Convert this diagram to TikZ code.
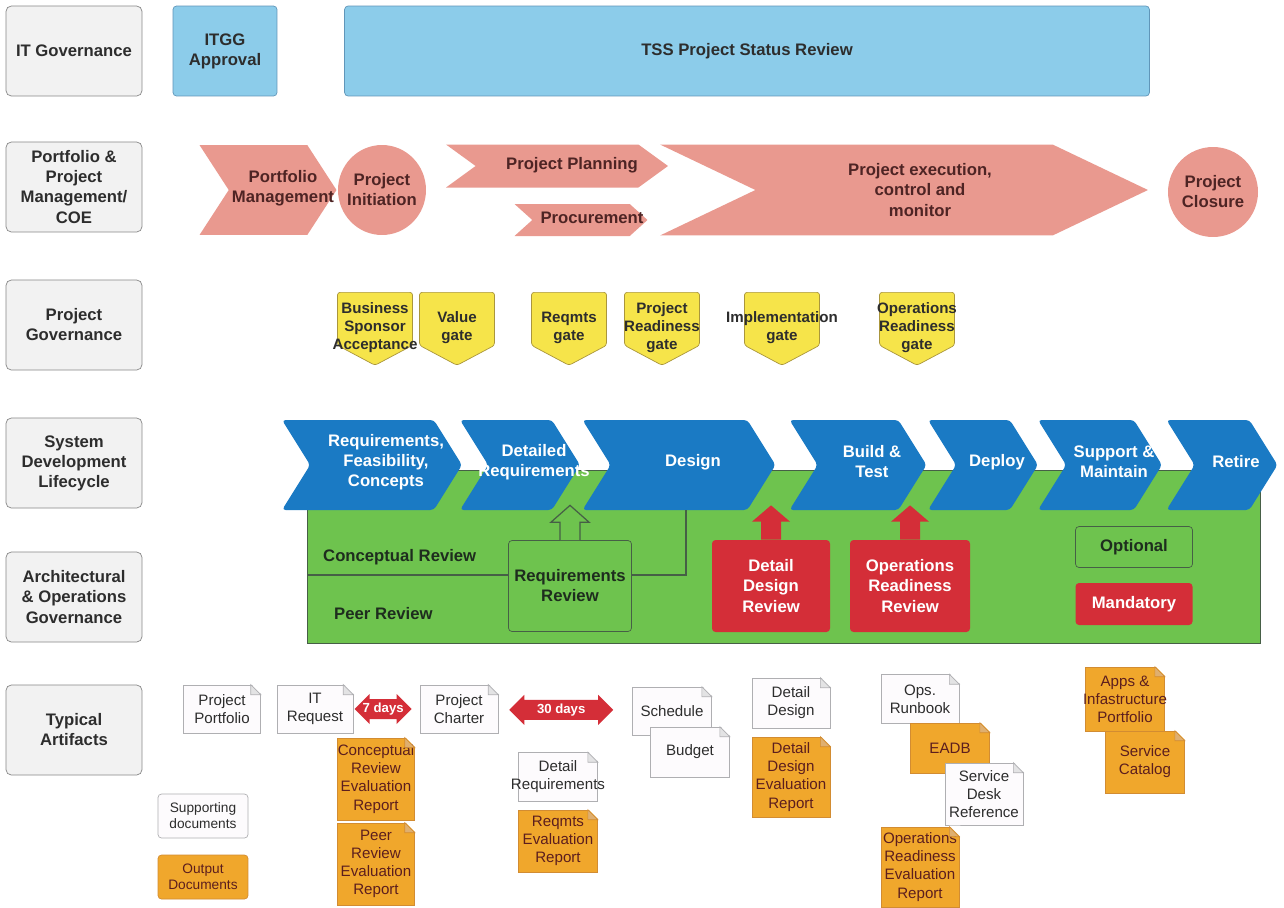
\documentclass[tikz,border=0pt]{standalone}
\usepackage{fontspec}
\setmainfont{Liberation Sans}
\usetikzlibrary{shapes.geometric, shapes.symbols, shapes.arrows, arrows.meta, positioning, calc}

\definecolor{txt}{RGB}{45,45,45}
\definecolor{lblfill}{RGB}{242,242,242}
\definecolor{lbledge}{RGB}{135,135,135}
\definecolor{govblue}{RGB}{140,204,234}
\definecolor{govedge}{RGB}{96,150,185}
\definecolor{salmon}{RGB}{233,153,143}
\definecolor{salmontext}{RGB}{78,36,36}
\definecolor{gateyellow}{RGB}{246,228,74}
\definecolor{gateedge}{RGB}{170,150,60}
\definecolor{sdlcblue}{RGB}{26,122,196}
\definecolor{archgreen}{RGB}{110,195,78}
\definecolor{archedge}{RGB}{70,95,70}
\definecolor{archtxt}{RGB}{30,45,30}
\definecolor{revred}{RGB}{212,46,56}
\definecolor{docwhite}{RGB}{253,251,253}
\definecolor{docgray}{RGB}{175,175,178}
\definecolor{docorange}{RGB}{240,167,44}
\definecolor{docoedge}{RGB}{210,140,50}
\definecolor{doctext}{RGB}{92,30,30}

\begin{document}
\begin{tikzpicture}[x=0.02cm, y=-0.02cm,
  every node/.style={align=center, text=txt, font=\fontsize{9.5}{11.4}\selectfont\bfseries},
  lane/.style={draw=lbledge, fill=lblfill, rounded corners=3pt, minimum width=2.72cm, minimum height=1.8cm},
  itg/.style={draw=govedge, fill=govblue, rounded corners=2pt, minimum height=1.8cm},
  pmshape/.style={fill=salmon, inner sep=0pt},
  pmchev/.style={pmshape, signal, signal from=west, signal to=east},
  pmtext/.style={text=salmontext},
  gate/.style={signal, signal to=south, signal pointer angle=124, draw=gateedge, fill=gateyellow,
    rounded corners=1.5pt, minimum width=1.5cm, minimum height=1.06cm, inner sep=0pt, anchor=north},
  gatetext/.style={font=\fontsize{8.6}{10.2}\selectfont\bfseries},
  sdlc/.style={signal, signal from=west, signal to=east, signal pointer angle=116, fill=sdlcblue,
    minimum height=1.8cm, inner sep=0pt, rounded corners=2pt},
  sdlctext/.style={text=white},
  panel/.style={draw=archedge, fill=archgreen},
  archtext/.style={text=archtxt, anchor=west},
  rev/.style={draw=archedge, fill=archgreen, rounded corners=2pt, text=archtxt},
  mand/.style={fill=revred, text=white, rounded corners=2pt},
  revline/.style={draw=archedge, line width=0.7pt},
  hollowup/.style={draw=archedge, fill=archgreen, line width=0.7pt},
  redup/.style={fill=revred},
  doc/.style={rectangle, inner sep=0pt, font=\fontsize{8.6}{10.3}\selectfont},
  wdoc/.style={doc, draw=docgray, fill=docwhite, text=txt},
  odoc/.style={doc, draw=docoedge, fill=docorange, text=doctext},
  keybox/.style={rounded corners=2pt, minimum width=1.8cm, minimum height=0.88cm, inner sep=0pt,
    font=\fontsize{7.8}{9.2}\selectfont},
  wfold/.style={draw=docgray, fill=docgray!35},
  ofold/.style={draw=docoedge, fill=docoedge!70},
  days/.style={double arrow, double arrow head extend=0.1cm, fill=revred, text=white, inner sep=2pt,
    font=\fontsize{7.5}{9}\selectfont\bfseries}
]
\fill[white] (0,0) rectangle (1284,907);
\useasboundingbox (0,0) rectangle (1284,907);

% swim lanes
\node[lane] (itgov) at (74,51) {IT Governance};
\node[lane] (ppm) at (74,187) {Portfolio \&\\Project\\Management/\\COE};
\node[lane] (pgov) at (74,325) {Project\\Governance};
\node[lane] (sdl) at (74,463) {System\\Development\\Lifecycle};
\node[lane] (aog) at (74,597) {Architectural\\\& Operations\\Governance};
\node[lane] (arti) at (74,730) {Typical\\Artifacts};

% IT governance
\node[itg, minimum width=2.08cm] (itgg) at (225,51) {ITGG\\Approval};
\node[itg, minimum width=16.1cm] (tss) at (747,51) {TSS Project Status Review};

% portfolio and project management
\node[pmchev, signal pointer angle=114, minimum width=2.74cm, minimum height=1.8cm] (pmgmt) at (268,190) {};
\node[pmtext] (pmgmt-t) at (283,188) {Portfolio\\Management};
\node[pmshape, ellipse, minimum width=1.76cm, minimum height=1.8cm] (pinit) at (382,190) {};
\node[pmtext] (pinit-t) at (pinit) {Project\\Initiation};
\node[pmchev, signal pointer angle=72, minimum width=4.44cm, minimum height=0.86cm] (pplan) at (557,166) {};
\node[pmtext] (pplan-t) at (572,165) {Project Planning};
\node[pmchev, signal pointer angle=84, minimum width=2.66cm, minimum height=0.64cm] (procure) at (581,220) {};
\node[pmtext] (procure-t) at (592,218) {Procurement};
\node[pmchev, signal pointer angle=51, minimum width=9.76cm, minimum height=1.82cm] (pexec) at (904,190) {};
\node[pmtext] (pexec-t) at (920,190) {Project execution,\\control and\\monitor};
\node[pmshape, circle, minimum size=1.8cm] (pclose) at (1213,192) {};
\node[pmtext] (pclose-t) at (pclose) {Project\\Closure};

% project gates
\foreach \g/\x/\t in {bsa/375/{Business\\Sponsor\\Acceptance}, valg/457/{Value\\gate},
    reqg/569/{Reqmts\\gate}, prg/662/{Project\\Readiness\\gate},
    impg/782/{Implementation\\gate}, opsg/917/{Operations\\Readiness\\gate}} {
  \node[gate] (\g) at (\x,292) {};
  \node[gatetext] (\g-t) at (\x,328) {\t};
}

% architecture panel sits behind the lifecycle
\draw[panel] (307,470) rectangle (1260,643);

% lifecycle chevrons
\foreach \c/\x/\w in {rfc/372/3.6, detreq/520/2.4, design/679/3.86, build/858/2.74,
    deploy/983/2.2, support/1100/2.48, retire/1222/2.22}
  \node[sdlc, minimum width=\w cm] (\c) at (\x,465) {};
\foreach \c/\t in {rfc/{Requirements,\\Feasibility,\\Concepts}, detreq/{Detailed\\Requirements},
    design/Design, build/{Build \&\\Test}, deploy/Deploy, support/{Support \&\\Maintain}, retire/Retire}
  \node[sdlctext] (\c-t) at ([xshift=0.28cm, yshift=0.06cm]\c.center) {\t};

% reviews
\node[archtext] (crtext) at (317,557) {Conceptual Review};
\node[archtext] (prtext) at (328,614) {Peer Review};
\node[rev, minimum width=2.42cm, minimum height=1.82cm] (rreview) at (570,586) {Requirements\\Review};
\node[mand, minimum width=2.36cm, minimum height=1.84cm] (ddr) at (771,586) {Detail\\Design\\Review};
\node[mand, minimum width=2.4cm, minimum height=1.84cm] (orr) at (910,586) {Operations\\Readiness\\Review};
\node[rev, minimum width=2.34cm, minimum height=0.82cm] (optional) at (1134,547) {Optional};
\node[mand, minimum width=2.34cm, minimum height=0.84cm] (mandatory) at (1134,604) {Mandatory};

\coordinate (crl) at (307,575);
\coordinate (crr) at (686,575);
\draw[revline] (crl) -- (crl -| rreview.west);
\draw[revline] (crl -| rreview.east) -- (crr) -- (crr |- design.south);

% review arrows up into the lifecycle
\foreach \b/\t/\s in {rreview/detreq/hollowup, ddr/design/redup, orr/build/redup}
  \path[\s] ($(\b.north)+(-10,0)$) -- ++(0,-18) -- ++(-9,0) -- ($(\b.north |- \t.south)+(0,-5)$)
    -- ($(\b.north)+(19,-18)$) -- ++(-9,0) -- ($(\b.north)+(10,0)$);

% artifacts
\node[wdoc, minimum width=1.54cm, minimum height=0.96cm] (pport) at (222,709) {Project\\Portfolio};
\node[wdoc, minimum width=1.52cm, minimum height=0.96cm] (itreq) at (315,709) {IT\\Request};
\node[wdoc, minimum width=1.56cm, minimum height=0.96cm] (pcharter) at (459,709) {Project\\Charter};
\node[wdoc, minimum width=1.58cm, minimum height=0.96cm] (sched) at (672,711) {Schedule};
\node[wdoc, minimum width=1.58cm, minimum height=1.0cm] (budget) at (690,752) {Budget};
\node[wdoc, minimum width=1.56cm, minimum height=1.0cm] (ddesign) at (791,703) {Detail\\Design};
\node[wdoc, minimum width=1.56cm, minimum height=0.98cm] (runbook) at (920,699) {Ops.\\Runbook};
\node[odoc, minimum width=1.58cm, minimum height=1.28cm] (appsport) at (1125,699) {Apps \&\\\makebox[0pt]{Infastructure}\\Portfolio};
\node[odoc, minimum width=1.54cm, minimum height=1.64cm] (crer) at (376,779) {\makebox[0pt]{Conceptual}\\Review\\Evaluation\\Report};
\node[odoc, minimum width=1.54cm, minimum height=1.64cm] (prer) at (376,864) {Peer\\Review\\Evaluation\\Report};
\node[wdoc, minimum width=1.58cm, minimum height=0.98cm] (detreqdoc) at (558,777) {Detail\\\makebox[0pt]{Requirements}};
\node[odoc, minimum width=1.58cm, minimum height=1.24cm] (rer) at (558,841) {Reqmts\\Evaluation\\Report};
\node[odoc, minimum width=1.56cm, minimum height=1.6cm] (dder) at (791,777) {Detail\\Design\\Evaluation\\Report};
\node[odoc, minimum width=1.58cm, minimum height=1.0cm] (eadb) at (950,748) {EADB};
\node[wdoc, minimum width=1.56cm, minimum height=1.24cm] (sdr) at (984,794) {Service\\Desk\\Reference};
\node[odoc, minimum width=1.56cm, minimum height=1.6cm] (orer) at (920,867) {\makebox[0pt]{Operations}\\Readiness\\Evaluation\\Report};
\node[odoc, minimum width=1.58cm, minimum height=1.24cm] (scat) at (1145,762) {Service\\Catalog};
% folded corners
\foreach \d/\f in {pport/wfold, itreq/wfold, pcharter/wfold, sched/wfold, budget/wfold, ddesign/wfold,
    runbook/wfold, appsport/ofold, crer/ofold, prer/ofold, detreqdoc/wfold, rer/ofold, dder/ofold,
    eadb/ofold, sdr/wfold, orer/ofold, scat/ofold} {
  \fill[white] ($(\d.north east)+(-10,-1)$) -- ($(\d.north east)+(1,-1)$) -- ($(\d.north east)+(1,10)$) -- cycle;
  \filldraw[\f] ($(\d.north east)+(-10,0)$) -- ++(0,10) -- ++(10,0) -- cycle;
}

\node[keybox, draw=docgray, fill=docwhite] (supdocs) at (203,816) {Supporting\\documents};
\node[keybox, draw=docoedge, fill=docorange, text=doctext] (outdocs) at (203,877) {Output\\Documents};

% lead times
\node[days, minimum height=1.14cm] (d7) at ($(itreq.east)!0.45!(pcharter.west)$) {\makebox[0pt]{7 days}};
\node[days, minimum height=2.08cm] (d30) at ($(pcharter.east)!0.47!(sched.west)$) {\makebox[0pt]{30 days}};
\end{tikzpicture}
\end{document}
